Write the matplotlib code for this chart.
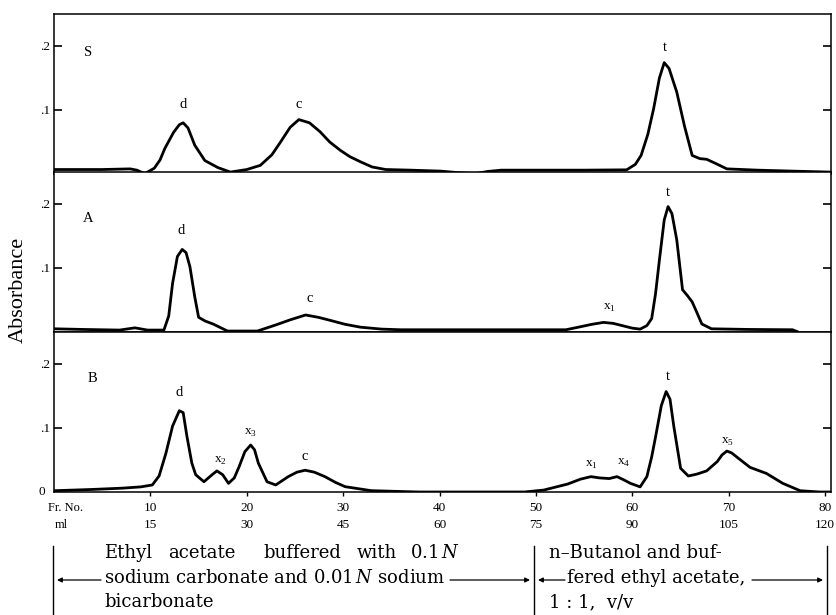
import matplotlib
matplotlib.use("Agg")
import matplotlib.pyplot as plt
from matplotlib import transforms

SERIF = ["Liberation Serif", "DejaVu Serif"]
WIDE = ["DejaVu Serif"]
plt.rcParams["font.family"] = SERIF
plt.rcParams["mathtext.fontset"] = "custom"
plt.rcParams["mathtext.rm"] = "Liberation Serif"
plt.rcParams["mathtext.it"] = "DejaVu Serif:italic"

# ---------------- data (fraction number vs absorbance) ----------------
S_frac = [0, 5, 7.9, 8.6, 9.4, 10.4, 11.0, 11.5, 12.4, 13.0, 13.4, 13.9, 14.6, 15.65, 17.0, 18.3,
          20.0, 21.4, 22.6, 23.5, 24.5, 25.4, 26.5, 27.6, 28.6, 29.7, 30.7, 31.8, 33.0, 34.4, 37,
          40.1, 42, 43.7, 45, 46.4, 50, 55, 59.4, 60.3, 60.9, 61.6, 62.2, 62.8, 63.3, 63.8, 64.6,
          65.4, 66.2, 67.0, 67.7, 68.7, 69.8, 73, 76.6, 80.5]
S_abs = [0.007, 0.007, 0.008, 0.006, 0.0005, 0.009, 0.022, 0.040, 0.065, 0.077, 0.080, 0.072, 0.045,
         0.021, 0.010, 0.003, 0.007, 0.0135, 0.030, 0.050, 0.073, 0.085, 0.080, 0.066, 0.050, 0.037,
         0.027, 0.019, 0.011, 0.007, 0.006, 0.0045, 0.002, 0.0005, 0.004, 0.006, 0.006, 0.006, 0.0065,
         0.015, 0.029, 0.062, 0.102, 0.150, 0.174, 0.165, 0.128, 0.075, 0.029, 0.024, 0.023, 0.016,
         0.008, 0.006, 0.0045, 0.003]

A_frac = [0, 3, 6.8, 8.4, 9.7, 11.4, 11.9, 12.3, 12.8, 13.3, 13.7, 14.1, 14.6, 15.0, 15.7, 16.5, 18.0,
          21.1, 22.0, 23.0, 24.5, 26.1, 27.4, 28.7, 30.2, 31.8, 34, 36.0, 45, 53.1, 54.7, 55.8, 57.0,
          58.0, 58.8, 60.0, 60.8, 61.5, 62.0, 62.4, 62.8, 63.3, 63.7, 64.1, 64.6, 65.2, 65.7, 66.2,
          66.7, 67.2, 68.2, 72, 76.6, 77.2]
A_abs = [0.005, 0.004, 0.003, 0.0065, 0.003, 0.003, 0.025, 0.076, 0.118, 0.129, 0.124, 0.102, 0.055,
         0.023, 0.017, 0.0125, 0.0015, 0.0015, 0.006, 0.011, 0.019, 0.0266, 0.023, 0.018, 0.012,
         0.0075, 0.0045, 0.0035, 0.0035, 0.0035, 0.0085, 0.012, 0.015, 0.0135, 0.0105, 0.006, 0.0045,
         0.010, 0.021, 0.060, 0.1125, 0.175, 0.196, 0.185, 0.144, 0.066, 0.057, 0.047, 0.030, 0.0125,
         0.005, 0.004, 0.0035, 0.0]

B_frac = [0, 4, 7.1, 9, 10.2, 10.9, 11.6, 12.3, 13.0, 13.4, 13.8, 14.3, 14.7, 15.55, 16.4, 16.9, 17.5,
          18.1, 18.7, 19.2, 19.8, 20.4, 20.8, 21.2, 22.1, 23.0, 24.3, 25.2, 26.05, 27.0, 28.1, 29.2,
          30.2, 32.9, 37.8, 44, 48.8, 50.8, 53.3, 54.6, 55.7, 56.6, 57.6, 58.4, 59.1, 59.8, 60.8, 61.5,
          62.0, 62.4, 63.0, 63.5, 63.9, 64.3, 65.0, 65.8, 66.7, 67.7, 68.8, 69.3, 69.8, 70.3, 70.8,
          72.2, 73.9, 75.6, 77.4, 79.4, 80.5]
B_abs = [0.002, 0.004, 0.006, 0.008, 0.011, 0.025, 0.060, 0.103, 0.127, 0.124, 0.086, 0.045, 0.027,
         0.016, 0.027, 0.033, 0.027, 0.0135, 0.022, 0.0395, 0.063, 0.0734, 0.066, 0.045, 0.016, 0.011,
         0.024, 0.031, 0.034, 0.031, 0.024, 0.015, 0.0083, 0.0021, 0.0, 0.0, 0.0, 0.003, 0.0125, 0.020,
         0.024, 0.022, 0.021, 0.024, 0.019, 0.0135, 0.008, 0.024, 0.055, 0.086, 0.135, 0.157, 0.145,
         0.102, 0.037, 0.025, 0.028, 0.033, 0.0475, 0.058, 0.064, 0.061, 0.055, 0.0385, 0.029, 0.0135,
         0.002, 0.0, 0.0]

panel_names = ["S", "A", "B"]
# peak labels: (text, fraction, absorbance)
S_peaks = [("d", 13.4, 0.108), ("c", 25.4, 0.108), ("t", 63.4, 0.198)]
A_peaks = [("d", 13.2, 0.158), ("c", 26.5, 0.052), ("x$_{1}$", 57.6, 0.038), ("t", 63.7, 0.218)]
B_peaks = [("d", 13.0, 0.155), ("x$_{2}$", 17.3, 0.049), ("x$_{3}$", 20.4, 0.092), ("c", 26.0, 0.056),
           ("x$_{1}$", 55.7, 0.042), ("x$_{4}$", 59.1, 0.045), ("t", 63.7, 0.181), ("x$_{5}$", 69.9, 0.078)]

frac_ticks = [10, 20, 30, 40, 50, 60, 70, 80]
ml_labels = ["15", "30", "45", "60", "75", "90", "105", "120"]
y_ticks = [0.1, 0.2]
y_ticklabels = [".1", ".2"]

# ---------------- figure ----------------
W, H = 836, 615
fig = plt.figure(figsize=(W / 100, H / 100), dpi=100)

def fx(px):
    return px / W

def fy(py):
    return 1 - py / H

left, right = 54, 831
tops = [14, 172, 332]
ph = 160
axes = []
for i in range(3):
    ax = fig.add_axes([fx(left), fy(tops[i] + ph), fx(right - left), ph / H])
    axes.append(ax)

series = [(S_frac, S_abs, S_peaks), (A_frac, A_abs, A_peaks), (B_frac, B_abs, B_peaks)]
for i, ax in enumerate(axes):
    xs, ys, peaks = series[i]
    ax.plot(xs, ys, color="black", lw=2.0, solid_joinstyle="round", solid_capstyle="round")
    ax.set_xlim(0, 80.6)
    ax.set_ylim(0, 0.25)
    for sp in ax.spines.values():
        sp.set_linewidth(1.1)
    ax.set_yticks(y_ticks)
    ax.set_yticklabels(y_ticklabels, fontsize=9.5)
    ax.tick_params(axis="y", direction="in", length=6, width=1.2, right=True, left=True, pad=3)
    ax.text(3.5 if i < 2 else 4.0, 0.19 if i == 0 else 0.177, panel_names[i], fontsize=10.5,
            ha="center", va="center")
    for (t, px, py) in peaks:
        small = t.startswith("x")
        ax.text(px, py, t, fontsize=9.5 if small else 10.5, ha="center", va="center")
    if i < 2:
        ax.set_xticks([])
    else:
        ax.set_xticks(frac_ticks)
        ax.set_xticklabels([])
        ax.tick_params(axis="x", direction="out", length=3, width=1.0)

axB = axes[2]
axB.text(-0.012, 0.0, "0", transform=axB.get_yaxis_transform(), ha="right", va="center", fontsize=9.5)

tr = transforms.blended_transform_factory(axB.transData, fig.transFigure)
for f, m in zip(frac_ticks, ml_labels):
    axB.text(f, fy(508), str(f), transform=tr, ha="center", va="center", fontsize=9.5)
    axB.text(f, fy(525), m, transform=tr, ha="center", va="center", fontsize=9.5)
fig.text(fx(48), fy(508), "Fr. No.", ha="left", va="center", fontsize=9)
fig.text(fx(55), fy(525), "ml", ha="left", va="center", fontsize=9)

fig.text(fx(18), fy(290), "Absorbance", rotation=90, ha="center", va="center", fontsize=16)

# ---------------- solvent annotation ----------------
fs = 13
for xb in [53, 534, 827]:
    fig.add_artist(plt.Line2D([fx(xb), fx(xb)], [fy(546), fy(615)], color="black", lw=1.0))

def words(items, y):
    for xw, w in items:
        fig.text(fx(xw), fy(y), w, fontsize=fs, va="center", ha="left", family=WIDE)

words([(104, "Ethyl"), (168, "acetate"), (263, "buffered"), (357, "with"), (410, "0.1$\\,N$")], 553)
words([(104, "sodium carbonate and 0.01$\\,N$ sodium")], 578)
words([(104, "bicarbonate")], 602)
words([(549, "n\u2013Butanol and buf-")], 553)
words([(567, "fered ethyl acetate,")], 578)
words([(549, "1 : 1,  v/v")], 602)

def arrow(x0, x1, y):
    fig.add_artist(matplotlib.patches.FancyArrowPatch((fx(x0), fy(y)), (fx(x1), fy(y)),
                   transform=fig.transFigure, arrowstyle="-|>", mutation_scale=7,
                   lw=0.9, color="black", shrinkA=0, shrinkB=0))

arrow(101, 57, 580)
arrow(450, 530, 580)
arrow(565, 538, 580)
arrow(752, 823, 580)

fig.savefig("out.png", dpi=100)
